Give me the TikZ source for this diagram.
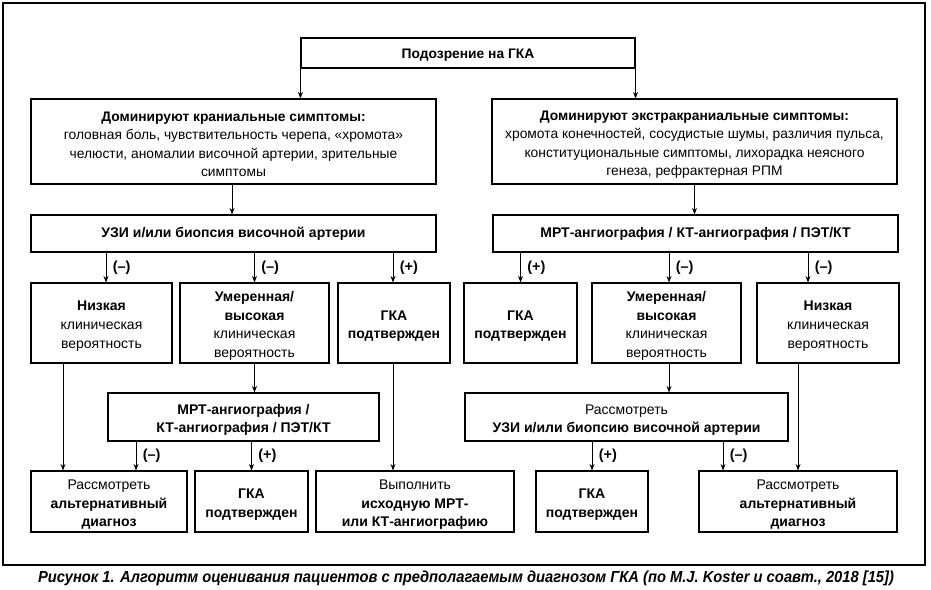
\documentclass[tikz,border=0pt]{standalone}
\usepackage{fontspec}
\setmainfont{Liberation Sans}
\newfontfamily\cf{Liberation Sans}
\newfontfamily\capf[FakeStretch=0.92]{Liberation Sans}
\usetikzlibrary{arrows.meta}
\newcommand\tup{\rule{0pt}{16pt}}
\newcommand\tupa{\rule{0pt}{15.5pt}}
\begin{document}
\begin{tikzpicture}[x=1pt,y=-1pt,
  bx/.style={draw, line width=1.1pt, inner sep=0pt, align=center},
  topf/.style={font=\cf\fontsize{13.8}{18.5}\selectfont},
  lowf/.style={font=\fontsize{14}{18.7}\selectfont},
  arr/.style={-{Stealth[length=6.5pt,width=5pt]}, line width=0.9pt},
  lbl/.style={font=\bfseries\fontsize{14.5}{16}\selectfont, right, xshift=3pt, midway}]
\useasboundingbox (0,0) rectangle (931,589);
\draw[line width=1.2pt] (3,3) rectangle (925,565);
% row 1
\node[bx, topf, minimum width=334pt, minimum height=30pt] (top) at (468,53) {\rule{0pt}{13pt}\bfseries Подозрение на ГКА};
% row 2
\node[bx, topf, minimum width=405pt, minimum height=85pt] (cran) at (233.5,141.5)
  {\tupa{\bfseries Доминируют краниальные симптомы:}\\головная боль, чувствительность черепа, «хромота»\\челюсти, аномалии височной артерии, зрительные\\симптомы};
\node[bx, topf, minimum width=405pt, minimum height=85pt] (extra) at (694.5,141.5)
  {\tupa{\bfseries Доминируют экстракраниальные симптомы:}\\хромота конечностей, сосудистые шумы, различия пульса,\\конституциональные симптомы, лихорадка неясного\\генеза, рефрактерная РПМ};
% row 2b
\node[bx, lowf, minimum width=405pt, minimum height=37pt] (uziL) at (233.5,233.5) {\bfseries УЗИ и/или биопсия височной артерии};
\node[bx, lowf, minimum width=405pt, minimum height=37pt] (mrtR) at (695.5,233.5) {\bfseries МРТ-ангиография / КТ-ангиография / ПЭТ/КТ};
% row 3
\node[bx, lowf, minimum width=141pt, minimum height=80pt] (lowL) at (101.5,323) {\tup\textbf{Низкая}\\клиническая\\вероятность};
\node[bx, lowf, minimum width=149pt, minimum height=80pt] (modL) at (254.5,323) {\tup\textbf{Умеренная/}\\\textbf{высокая}\\клиническая\\вероятность};
\node[bx, lowf, minimum width=112pt, minimum height=80pt] (gcaL) at (394,323) {\tup\textbf{ГКА}\\\textbf{подтвержден}};
\node[bx, lowf, minimum width=113pt, minimum height=80pt] (gcaR) at (520.5,323) {\tup\textbf{ГКА}\\\textbf{подтвержден}};
\node[bx, lowf, minimum width=149pt, minimum height=80pt] (modR) at (666.5,323) {\tup\textbf{Умеренная/}\\\textbf{высокая}\\клиническая\\вероятность};
\node[bx, lowf, minimum width=142pt, minimum height=80pt] (lowR) at (828,323) {\tup\textbf{Низкая}\\клиническая\\вероятность};
% row 4
\node[bx, lowf, minimum width=271pt, minimum height=48pt] (mrtL) at (243.5,417) {\tup\textbf{МРТ-ангиография /}\\\textbf{КТ-ангиография / ПЭТ/КТ}};
\node[bx, lowf, minimum width=323pt, minimum height=48pt] (uziR) at (626.5,417) {\tup Рассмотреть\\\textbf{УЗИ и/или биопсию височной артерии}};
% row 5
\node[bx, lowf, minimum width=156pt, minimum height=61pt] (altL) at (109,501.5) {\tup Рассмотреть\\\textbf{альтернативный}\\\textbf{диагноз}};
\node[bx, lowf, minimum width=113pt, minimum height=61pt] (gcaL2) at (251.5,501.5) {\tup\textbf{ГКА}\\\textbf{подтвержден}};
\node[bx, lowf, minimum width=198pt, minimum height=61pt] (perf) at (415,501.5) {\tup Выполнить\\\textbf{исходную МРТ-}\\\textbf{или КТ-ангиографию}};
\node[bx, lowf, minimum width=112pt, minimum height=61pt] (gcaR2) at (592,501.5) {\tup\textbf{ГКА}\\\textbf{подтвержден}};
\node[bx, lowf, minimum width=198pt, minimum height=61pt] (altR) at (798,501.5) {\tup Рассмотреть\\\textbf{альтернативный}\\\textbf{диагноз}};
% caption
\node[font=\capf\bfseries\itshape\fontsize{16}{18}\selectfont] (cap) at (466,578) {Рисунок 1. Алгоритм оценивания пациентов с предполагаемым диагнозом ГКА (по M.J. Koster и соавт., 2018 [15])};
% arrows
\draw[arr] (top.south west) -- (top.south west |- cran.north);
\draw[arr] (top.south east) -- (top.south east |- cran.north);
\draw[arr] ([xshift=-1.5pt]cran.south) -- ([xshift=-1.5pt]uziL.north);
\draw[arr] (extra.south) -- (extra.south |- mrtR.north);
\draw[arr] ([xshift=4.5pt]lowL.north |- uziL.south) -- ([xshift=4.5pt]lowL.north) node[lbl] {(–)};
\draw[arr] (modL.north |- uziL.south) -- (modL.north) node[lbl] {(–)};
\draw[arr] ([xshift=-1pt]gcaL.north |- uziL.south) -- ([xshift=-1pt]gcaL.north) node[lbl] {(+)};
\draw[arr] (gcaR.north |- mrtR.south) -- (gcaR.north) node[lbl] {(+)};
\draw[arr] ([xshift=2.5pt]modR.north |- mrtR.south) -- ([xshift=2.5pt]modR.north) node[lbl] {(–)};
\draw[arr] ([xshift=-20pt]lowR.north |- mrtR.south) -- ([xshift=-20pt]lowR.north) node[lbl] {(–)};
\draw[arr] (modL.south) -- (modL.south |- mrtL.north);
\draw[arr] ([xshift=2.5pt]modR.south) -- ([xshift=2.5pt]modR.south |- uziR.north);
\draw[arr] ([xshift=-38.5pt]lowL.south) -- ([xshift=-38.5pt]lowL.south |- altL.north);
\draw[arr] ([xshift=27pt]altL.north |- mrtL.south) -- ([xshift=27pt]altL.north) node[lbl] {(–)};
\draw[arr] (gcaL2.north |- mrtL.south) -- (gcaL2.north) node[lbl] {(+)};
\draw[arr] ([xshift=-1pt]gcaL.south) -- ([xshift=-1pt]gcaL.south |- perf.north);
\draw[arr] (gcaR2.north |- uziR.south) -- (gcaR2.north) node[lbl] {(+)};
\draw[arr] ([xshift=-75pt]altR.north |- uziR.south) -- ([xshift=-75pt]altR.north) node[lbl] {(–)};
\draw[arr] ([xshift=-30pt]lowR.south) -- ([xshift=-30pt]lowR.south |- altR.north);
\end{tikzpicture}
\end{document}
